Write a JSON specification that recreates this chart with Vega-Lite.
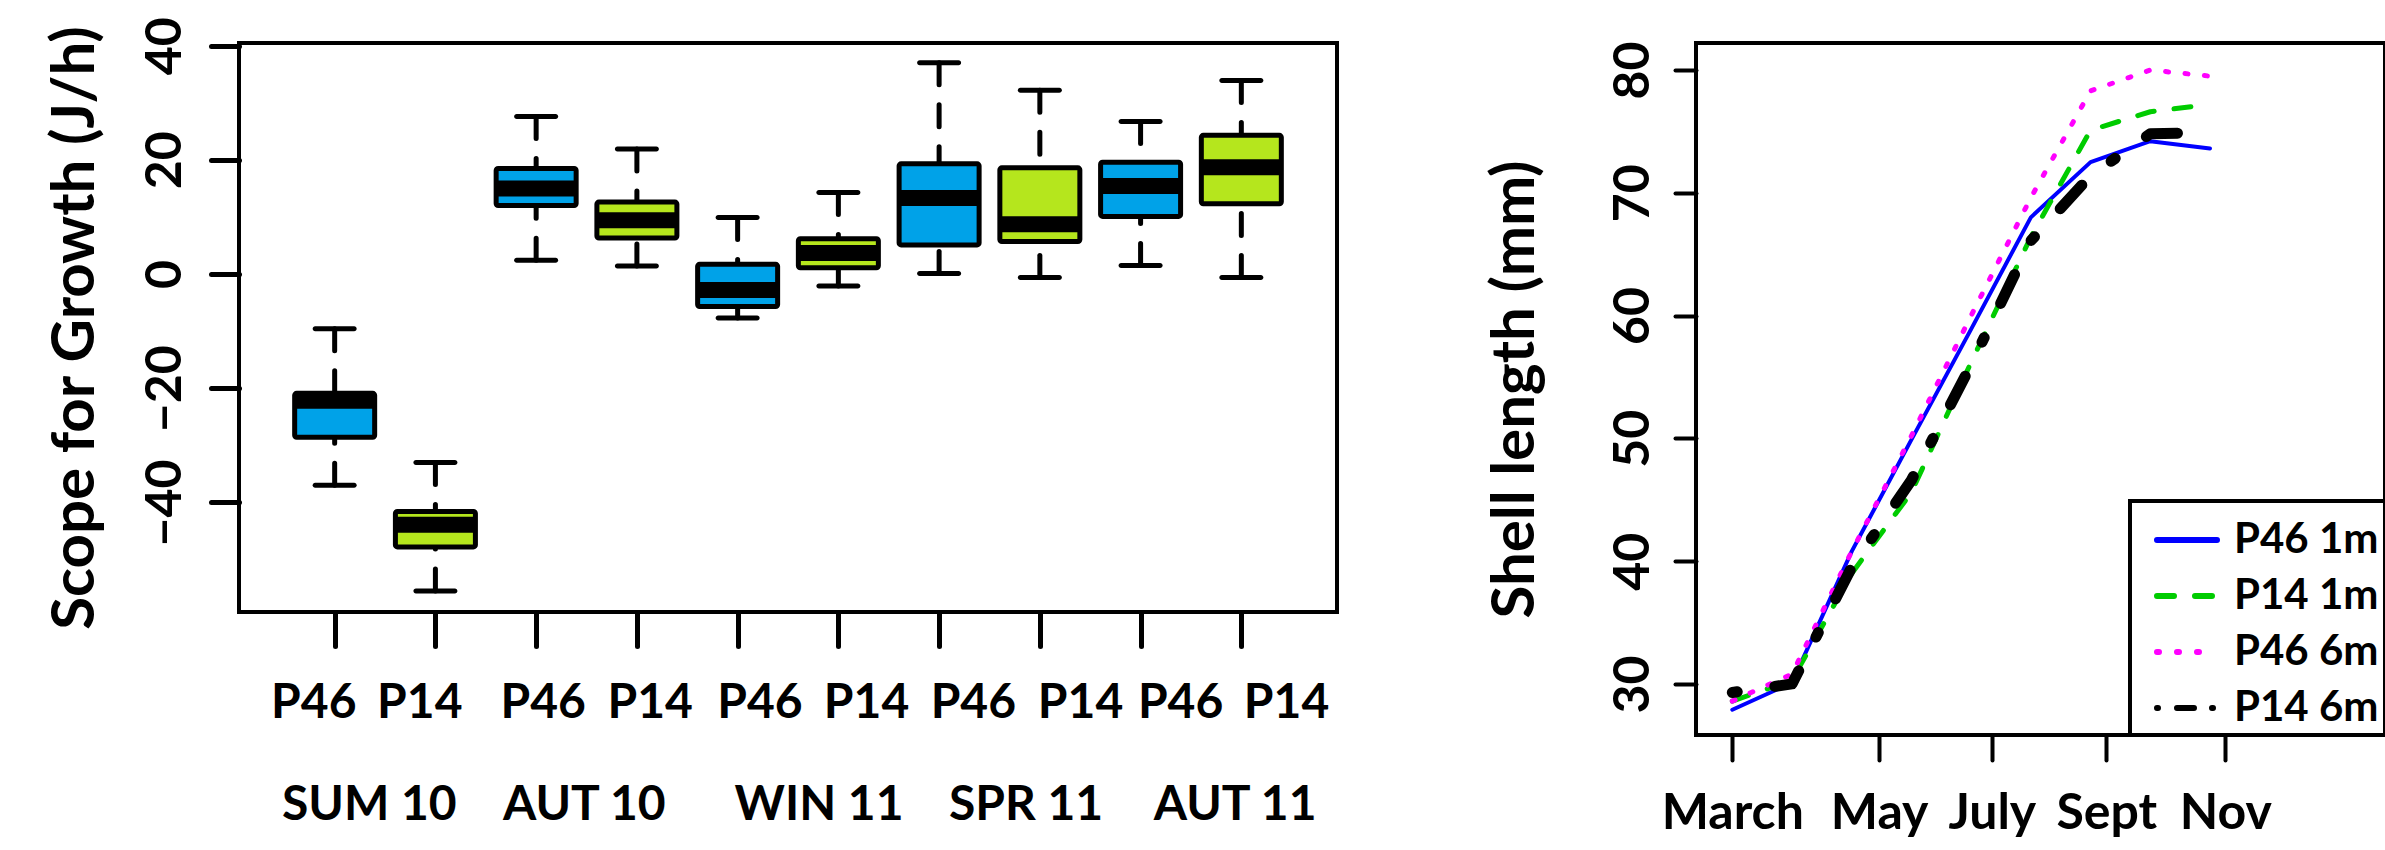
{
  "$schema": "https://vega.github.io/schema/vega-lite/v6.json",
  "background": "white",
  "padding": {"left": 42, "top": 14, "right": 0, "bottom": 0},
  "spacing": 144,
  "resolve": {"legend": {"color": "independent", "fill": "independent"}, "scale": {"color": "independent", "fill": "independent"}},
  "config": {
    "view": {"stroke": "black", "strokeWidth": 4},
    "axis": {
      "domain": false, "grid": false,
      "labelFont": "Lato", "labelFontWeight": "bold", "labelFontSize": 50, "labelColor": "black",
      "titleFont": "Lato", "titleFontWeight": "bold", "titleFontSize": 60, "titleColor": "black",
      "tickColor": "black", "tickWidth": 5, "tickCap": "round",
      "labelOverlap": false, "labelFlush": false, "labelBound": false
    }
  },
  "datasets": {
    "boxes": [
      {"pos": 1, "season": "SUM 10", "site": "P46", "lower": -37.0, "q1": -28.6, "median": -22.2, "q3": -20.9, "upper": -9.6},
      {"pos": 2, "season": "SUM 10", "site": "P14", "lower": -55.5, "q1": -47.8, "median": -43.9, "q3": -41.6, "upper": -33.0},
      {"pos": 3, "season": "AUT 10", "site": "P46", "lower": 2.4, "q1": 12.0, "median": 15.0, "q3": 18.5, "upper": 27.6},
      {"pos": 4, "season": "AUT 10", "site": "P14", "lower": 1.4, "q1": 6.3, "median": 9.4, "q3": 12.6, "upper": 21.9},
      {"pos": 5, "season": "WIN 11", "site": "P46", "lower": -7.7, "q1": -5.7, "median": -2.8, "q3": 1.7, "upper": 9.9},
      {"pos": 6, "season": "WIN 11", "site": "P14", "lower": -2.1, "q1": 1.1, "median": 3.7, "q3": 6.2, "upper": 14.3},
      {"pos": 7, "season": "SPR 11", "site": "P46", "lower": 0.1, "q1": 5.1, "median": 13.3, "q3": 19.3, "upper": 37.0},
      {"pos": 8, "season": "SPR 11", "site": "P14", "lower": -0.6, "q1": 5.7, "median": 8.7, "q3": 18.6, "upper": 32.2},
      {"pos": 9, "season": "AUT 11", "site": "P46", "lower": 1.5, "q1": 10.1, "median": 15.4, "q3": 19.6, "upper": 26.7},
      {"pos": 10, "season": "AUT 11", "site": "P14", "lower": -0.6, "q1": 12.3, "median": 18.7, "q3": 24.3, "upper": 33.9}
    ],
    "growth": [
      {"month": 3, "series": "P46 1m", "length": 27.9},
      {"month": 4, "series": "P46 1m", "length": 30.1},
      {"month": 5, "series": "P46 1m", "length": 40.8},
      {"month": 6, "series": "P46 1m", "length": 49.9},
      {"month": 7, "series": "P46 1m", "length": 58.9},
      {"month": 8, "series": "P46 1m", "length": 68.0},
      {"month": 9, "series": "P46 1m", "length": 72.5},
      {"month": 10, "series": "P46 1m", "length": 74.2},
      {"month": 11, "series": "P46 1m", "length": 73.6},
      {"month": 3, "series": "P14 1m", "length": 28.6},
      {"month": 4, "series": "P14 1m", "length": 30.3},
      {"month": 5, "series": "P14 1m", "length": 39.0},
      {"month": 6, "series": "P14 1m", "length": 45.6},
      {"month": 7, "series": "P14 1m", "length": 56.2},
      {"month": 8, "series": "P14 1m", "length": 66.4},
      {"month": 9, "series": "P14 1m", "length": 75.1},
      {"month": 10, "series": "P14 1m", "length": 76.6},
      {"month": 11, "series": "P14 1m", "length": 77.2},
      {"month": 3, "series": "P46 6m", "length": 28.6},
      {"month": 4, "series": "P46 6m", "length": 30.8},
      {"month": 5, "series": "P46 6m", "length": 40.8},
      {"month": 6, "series": "P46 6m", "length": 50.2},
      {"month": 7, "series": "P46 6m", "length": 60.0},
      {"month": 8, "series": "P46 6m", "length": 69.6},
      {"month": 9, "series": "P46 6m", "length": 78.3},
      {"month": 10, "series": "P46 6m", "length": 80.0},
      {"month": 11, "series": "P46 6m", "length": 79.5},
      {"month": 3, "series": "P14 6m", "length": 29.3},
      {"month": 4, "series": "P14 6m", "length": 30.0},
      {"month": 5, "series": "P14 6m", "length": 39.5},
      {"month": 6, "series": "P14 6m", "length": 46.6},
      {"month": 7, "series": "P14 6m", "length": 56.0},
      {"month": 8, "series": "P14 6m", "length": 66.1},
      {"month": 9, "series": "P14 6m", "length": 71.4},
      {"month": 10, "series": "P14 6m", "length": 74.8},
      {"month": 11, "series": "P14 6m", "length": 74.9}
    ]
  },
  "hconcat": [
    {
      "width": 1098,
      "height": 569,
      "data": {"name": "boxes"},
      "encoding": {
        "x": {
          "field": "pos", "type": "quantitative",
          "scale": {"domain": [0.1, 10.9], "nice": false, "zero": false},
          "axis": {
            "title": null,
            "values": [1, 2, 3, 4, 5, 6, 7, 8, 9, 10, 0.788, 1.84, 3.065, 4.127, 5.217, 6.275, 7.335, 8.399, 9.392, 10.444, 1.339, 3.473, 5.803, 7.858, 9.933],
            "labelExpr": "indexof([0.788,1.84,3.065,4.127,5.217,6.275,7.335,8.399,9.392,10.444], datum.value) >= 0 ? (indexof([0.788,1.84,3.065,4.127,5.217,6.275,7.335,8.399,9.392,10.444], datum.value) % 2 == 0 ? 'P46' : 'P14') : (indexof([1.339,3.473,5.803,7.858,9.933], datum.value) >= 0 ? ['', ['SUM 10','AUT 10','WIN 11','SPR 11','AUT 11'][indexof([1.339,3.473,5.803,7.858,9.933], datum.value)]] : '')",
            "tickSize": 34,
            "tickOpacity": {"condition": {"test": "datum.value % 1 != 0", "value": 0}, "value": 1},
            "labelPadding": 33,
            "labelBaseline": "top",
            "labelAlign": "center",
            "labelLineHeight": 102,
            "labelFontSize": 48
          }
        }
      },
      "layer": [
        {
          "mark": {"type": "rule", "strokeWidth": 5, "strokeDash": [22, 20], "strokeCap": "round", "color": "black"},
          "encoding": {
            "y": {
              "field": "upper", "type": "quantitative",
              "scale": {"domain": [-59.2, 40.47], "nice": false, "zero": false},
              "axis": {
                "title": "Scope for Growth (J/h)",
                "values": [-40, -20, 0, 20, 40],
                "tickSize": 28,
                "labelAngle": -90, "labelAlign": "center", "labelBaseline": "alphabetic",
                "labelPadding": 31,
                "titleX": -146, "titleBaseline": "alphabetic", "titleAngle": -90
              }
            },
            "y2": {"field": "q3"}
          }
        },
        {
          "mark": {"type": "rule", "strokeWidth": 5, "strokeDash": [22, 20], "strokeCap": "round", "color": "black"},
          "encoding": {
            "y": {"field": "lower", "type": "quantitative", "scale": {"domain": [-59.2, 40.47], "nice": false, "zero": false}},
            "y2": {"field": "q1"}
          }
        },
        {
          "mark": {"type": "tick", "orient": "horizontal", "size": 44, "thickness": 5, "color": "black", "opacity": 1, "cornerRadius": 2.5},
          "encoding": {
            "y": {"field": "upper", "type": "quantitative", "scale": {"domain": [-59.2, 40.47], "nice": false, "zero": false}}
          }
        },
        {
          "mark": {"type": "tick", "orient": "horizontal", "size": 44, "thickness": 5, "color": "black", "opacity": 1, "cornerRadius": 2.5},
          "encoding": {
            "y": {"field": "lower", "type": "quantitative", "scale": {"domain": [-59.2, 40.47], "nice": false, "zero": false}}
          }
        },
        {
          "mark": {"type": "bar", "size": 80, "stroke": "black", "strokeWidth": 5, "strokeJoin": "round", "cornerRadius": 2},
          "encoding": {
            "y": {"field": "q1", "type": "quantitative", "scale": {"domain": [-59.2, 40.47], "nice": false, "zero": false}},
            "y2": {"field": "q3"},
            "fill": {
              "field": "site", "type": "nominal",
              "scale": {"domain": ["P46", "P14"], "range": ["#00A2E8", "#B5E61D"]},
              "legend": null
            }
          }
        },
        {
          "mark": {"type": "tick", "orient": "horizontal", "size": 80, "thickness": 16, "color": "black", "opacity": 1},
          "encoding": {
            "y": {"field": "median", "type": "quantitative", "scale": {"domain": [-59.2, 40.47], "nice": false, "zero": false}}
          }
        }
      ]
    },
    {
      "width": 689,
      "height": 692,
      "data": {"name": "growth"},
      "encoding": {
        "x": {
          "field": "month", "type": "quantitative",
          "scale": {"domain": [2.392, 13.931], "nice": false, "zero": false},
          "axis": {
            "title": null,
            "values": [3, 5.459, 7.346, 9.264, 11.257],
            "labelExpr": "['March','May','July','Sept','Nov'][indexof([3,5.459,7.346,9.264,11.257], datum.value)]",
            "tickSize": 25, "tickWidth": 4,
            "labelPadding": 28, "labelBaseline": "top", "labelAlign": "center"
          }
        },
        "y": {
          "field": "length", "type": "quantitative",
          "scale": {"domain": [25.84, 82.2], "nice": false, "zero": false},
          "axis": {
            "title": "Shell length (mm)",
            "values": [30, 40, 50, 60, 70, 80],
            "tickSize": 21, "tickWidth": 4,
            "labelAngle": -90, "labelAlign": "center", "labelBaseline": "alphabetic",
            "labelPadding": 27,
            "titleX": -163, "titleBaseline": "alphabetic", "titleAngle": -90
          }
        },
        "color": {
          "field": "series", "type": "nominal",
          "scale": {"domain": ["P46 1m", "P14 1m", "P46 6m", "P14 6m"], "range": ["#0000FF", "#00CC00", "#FF00FF", "#000000"]},
          "legend": {
            "title": " ", "titleOrient": "left", "titleFontSize": 2, "titlePadding": 18,
            "orient": "bottom-right", "offset": 0,
            "symbolType": "stroke", "symbolSize": 3600, "symbolStrokeWidth": 6,
            "labelFont": "Lato", "labelFontWeight": "bold", "labelFontSize": 42, "labelColor": "black",
            "labelOffset": 14, "labelLimit": 400,
            "rowPadding": 2, "padding": 6,
            "strokeColor": "black", "fillColor": "white",
            "encode": {
              "symbols": {
                "update": {
                  "strokeDash": {"signal": "datum.value === 'P14 1m' ? [17, 21] : datum.value === 'P46 6m' ? [2, 18] : datum.value === 'P14 6m' ? [1, 19, 17, 18] : [1, 0]"},
                  "strokeCap": {"value": "round"},
                  "strokeWidth": {"value": 6}
                }
              },
              "legend": {"update": {"strokeWidth": {"value": 4}}}
            }
          }
        }
      },
      "layer": [
        {
          "transform": [{"filter": "datum.series === 'P46 1m'"}],
          "mark": {"type": "line", "strokeWidth": 4, "strokeJoin": "round", "strokeCap": "round"}
        },
        {
          "transform": [{"filter": "datum.series === 'P14 1m'"}],
          "mark": {"type": "line", "strokeWidth": 5, "strokeDash": [17, 20], "strokeJoin": "round", "strokeCap": "round"}
        },
        {
          "transform": [{"filter": "datum.series === 'P46 6m'"}],
          "mark": {"type": "line", "strokeWidth": 5, "strokeDash": [3, 16.5], "strokeJoin": "round", "strokeCap": "round"}
        },
        {
          "transform": [{"filter": "datum.series === 'P14 6m'"}],
          "mark": {"type": "line", "strokeWidth": 11, "strokeDash": [5, 38, 32, 38], "strokeJoin": "round", "strokeCap": "round"}
        }
      ]
    }
  ]
}
